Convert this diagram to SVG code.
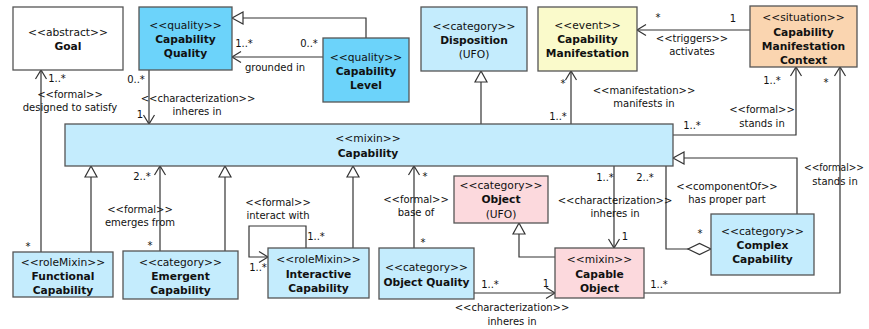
<svg xmlns="http://www.w3.org/2000/svg" width="869" height="329" viewBox="0 0 869 329">
  <style>
    .box { stroke: #555; stroke-width: 1.3; }
    .white { fill: #ffffff; }
    .quality { fill: #6cd3fa; }
    .light { fill: #c4ecfd; }
    .event { fill: #fafacb; }
    .situation { fill: #fad5b0; }
    .object { fill: #fcd9dd; }
    .st { font-family: "DejaVu Sans", Verdana, sans-serif; font-size: 10.7px; fill: #111; text-anchor: middle; }
    .nm { font-family: "DejaVu Sans", Verdana, sans-serif; font-size: 10.7px; font-weight: bold; fill: #111; text-anchor: middle; }
    .lbl { font-family: "DejaVu Sans", Verdana, sans-serif; font-size: 10px; fill: #111; text-anchor: middle; }
    .edge { fill: none; stroke: #333; stroke-width: 1.2; }
    .assoc { marker-end: url(#open); }
    .gen { marker-end: url(#tri); }
  </style>
  <defs>
    <marker id="open" viewBox="-11 -7 12 14" refX="0" refY="0" markerWidth="12" markerHeight="14" orient="auto" markerUnits="userSpaceOnUse" overflow="visible">
      <path d="M-9,-5.5 L0,0 L-9,5.5" fill="none" stroke="#333" stroke-width="1.2"/>
    </marker>
    <marker id="tri" viewBox="-12 -7 13 14" refX="0" refY="0" markerWidth="13" markerHeight="14" orient="auto" markerUnits="userSpaceOnUse" overflow="visible">
      <path d="M0,0 L-11,-6 L-11,6 Z" fill="#ffffff" stroke="#333" stroke-width="1.2"/>
    </marker>
    <marker id="diamond" viewBox="-1 -7 25 14" refX="0" refY="0" markerWidth="25" markerHeight="14" orient="auto" markerUnits="userSpaceOnUse" overflow="visible">
      <path d="M0,0 L11.5,-5.5 L23,0 L11.5,5.5 Z" fill="#ffffff" stroke="#333" stroke-width="1.2"/>
    </marker>
  </defs>

  <g id="connectors">
    <path class="edge assoc" d="M41,252 V70"/>
    <path class="edge gen" d="M91,252 V166"/>
    <path class="edge assoc" d="M160,251 V166"/>
    <path class="edge gen" d="M225,251 V166"/>
    <path class="edge assoc" d="M306,248 V226 H249 V257 H268"/>
    <path class="edge gen" d="M353,248 V166"/>
    <path class="edge assoc" d="M414,248 V166"/>
    <path class="edge assoc" d="M474,293 H555"/>
    <path class="edge gen" d="M555,257 H519 V223"/>
    <path class="edge assoc" d="M614,166 V248"/>
    <path class="edge" d="M711,249 H666 V166" marker-start="url(#diamond)"/>
    <path class="edge gen" d="M797,214 V158 H673"/>
    <path class="edge assoc" d="M673,135 H796 V67"/>
    <path class="edge assoc" d="M644,293 H840 V67"/>
    <path class="edge assoc" d="M571,124 V71"/>
    <path class="edge assoc" d="M750,30 H637"/>
    <path class="edge gen" d="M481,124 V71"/>
    <path class="edge assoc" d="M149,70 V124"/>
    <path class="edge gen" d="M366,38 V18 H232"/>
    <path class="edge assoc" d="M323,57 H232"/>

    <!-- association labels and multiplicities -->
    <text class="lbl" x="57" y="82">1..*</text>
    <text class="lbl" x="70" y="98">&lt;&lt;formal&gt;&gt;</text>
    <text class="lbl" x="70" y="111">designed to satisfy</text>
    <text class="lbl" x="28" y="250">*</text>

    <text class="lbl" x="136" y="83">0..*</text>
    <text class="lbl" x="198" y="102">&lt;&lt;characterization&gt;&gt;</text>
    <text class="lbl" x="197" y="115">inheres in</text>
    <text class="lbl" x="140" y="118">1</text>

    <text class="lbl" x="244" y="47">1..*</text>
    <text class="lbl" x="309" y="47">0..*</text>
    <text class="lbl" x="275" y="71">grounded in</text>

    <text class="lbl" x="563" y="87">*</text>
    <text class="lbl" x="558" y="120">1..*</text>
    <text class="lbl" x="644" y="94">&lt;&lt;manifestation&gt;&gt;</text>
    <text class="lbl" x="644" y="107">manifests in</text>

    <text class="lbl" x="658" y="21">*</text>
    <text class="lbl" x="733" y="22">1</text>
    <text class="lbl" x="692" y="42">&lt;&lt;triggers&gt;&gt;</text>
    <text class="lbl" x="692" y="55">activates</text>

    <text class="lbl" x="772" y="84">1..*</text>
    <text class="lbl" x="826" y="86">*</text>
    <text class="lbl" x="762" y="113">&lt;&lt;formal&gt;&gt;</text>
    <text class="lbl" x="762" y="127">stands in</text>
    <text class="lbl" x="692" y="129">1..*</text>

    <text class="lbl" x="834" y="171" textLength="60" lengthAdjust="spacingAndGlyphs">&lt;&lt;formal&gt;&gt;</text>
    <text class="lbl" x="835" y="185">stands in</text>
    <text class="lbl" x="659" y="288">1..*</text>

    <text class="lbl" x="605" y="181">1..*</text>
    <text class="lbl" x="645" y="181">2..*</text>
    <text class="lbl" x="615" y="204">&lt;&lt;characterization&gt;&gt;</text>
    <text class="lbl" x="615" y="217">inheres in</text>
    <text class="lbl" x="625" y="240">1</text>

    <text class="lbl" x="727" y="190">&lt;&lt;componentOf&gt;&gt;</text>
    <text class="lbl" x="727" y="203">has proper part</text>
    <text class="lbl" x="700" y="237">*</text>

    <text class="lbl" x="490" y="288">1..*</text>
    <text class="lbl" x="546" y="287">1</text>
    <text class="lbl" x="512" y="311">&lt;&lt;characterization&gt;&gt;</text>
    <text class="lbl" x="512" y="325">inheres in</text>

    <text class="lbl" x="425" y="180">*</text>
    <text class="lbl" x="416" y="203">&lt;&lt;formal&gt;&gt;</text>
    <text class="lbl" x="416" y="216">base of</text>
    <text class="lbl" x="423" y="246">*</text>

    <text class="lbl" x="278" y="206">&lt;&lt;formal&gt;&gt;</text>
    <text class="lbl" x="278" y="219">interact with</text>
    <text class="lbl" x="316" y="240">1..*</text>
    <text class="lbl" x="258" y="271">1..*</text>

    <text class="lbl" x="142" y="180">2..*</text>
    <text class="lbl" x="140" y="213">&lt;&lt;formal&gt;&gt;</text>
    <text class="lbl" x="140" y="226">emerges from</text>
    <text class="lbl" x="150" y="249">*</text>
  </g>

  <g id="goal">
    <rect class="box white" x="13" y="7" width="110" height="63"/>
    <text class="st" x="68" y="36">&lt;&lt;abstract&gt;&gt;</text>
    <text class="nm" x="68" y="50">Goal</text>
  </g>

  <g id="capability-quality">
    <rect class="box quality" x="139" y="7" width="93" height="63"/>
    <text class="st" x="185.5" y="29">&lt;&lt;quality&gt;&gt;</text>
    <text class="nm" x="185.5" y="43">Capability</text>
    <text class="nm" x="185.5" y="57">Quality</text>
  </g>

  <g id="capability-level">
    <rect class="box quality" x="323" y="38" width="86" height="64"/>
    <text class="st" x="366" y="60.5">&lt;&lt;quality&gt;&gt;</text>
    <text class="nm" x="366" y="74.5">Capability</text>
    <text class="nm" x="366" y="88.5">Level</text>
  </g>

  <g id="disposition">
    <rect class="box light" x="421" y="7" width="106" height="64"/>
    <text class="st" x="474" y="29.5">&lt;&lt;category&gt;&gt;</text>
    <text class="nm" x="474" y="44">Disposition</text>
    <text class="st" x="474" y="58">(UFO)</text>
  </g>

  <g id="capability-manifestation">
    <rect class="box event" x="538" y="7" width="99" height="64"/>
    <text class="st" x="587.5" y="29">&lt;&lt;event&gt;&gt;</text>
    <text class="nm" x="587.5" y="43">Capability</text>
    <text class="nm" x="587.5" y="57">Manifestation</text>
  </g>

  <g id="capability-manifestation-context">
    <rect class="box situation" x="750" y="6" width="107" height="61"/>
    <text class="st" x="803.5" y="21">&lt;&lt;situation&gt;&gt;</text>
    <text class="nm" x="803.5" y="35.5">Capability</text>
    <text class="nm" x="803.5" y="49.5">Manifestation</text>
    <text class="nm" x="803.5" y="63.5">Context</text>
  </g>

  <g id="capability">
    <rect class="box light" x="65" y="124" width="608" height="42"/>
    <text class="st" x="368" y="142">&lt;&lt;mixin&gt;&gt;</text>
    <text class="nm" x="368" y="156.5">Capability</text>
  </g>

  <g id="functional-capability">
    <rect class="box light" x="13" y="252" width="100" height="45"/>
    <text class="st" x="63" y="265.5">&lt;&lt;roleMixin&gt;&gt;</text>
    <text class="nm" x="63" y="279.5">Functional</text>
    <text class="nm" x="63" y="293.5">Capability</text>
  </g>

  <g id="emergent-capability">
    <rect class="box light" x="123" y="251" width="115" height="48"/>
    <text class="st" x="180.5" y="265.5">&lt;&lt;category&gt;&gt;</text>
    <text class="nm" x="180.5" y="279.5">Emergent</text>
    <text class="nm" x="180.5" y="293.5">Capability</text>
  </g>

  <g id="interactive-capability">
    <rect class="box light" x="268" y="248" width="101" height="50"/>
    <text class="st" x="318.5" y="263">&lt;&lt;roleMixin&gt;&gt;</text>
    <text class="nm" x="318.5" y="277.5">Interactive</text>
    <text class="nm" x="318.5" y="291.5">Capability</text>
  </g>

  <g id="object-quality">
    <rect class="box light" x="379" y="248" width="95" height="51"/>
    <text class="st" x="426.5" y="271">&lt;&lt;category&gt;&gt;</text>
    <text class="nm" x="426.5" y="286">Object Quality</text>
  </g>

  <g id="object">
    <rect class="box object" x="454" y="176" width="94" height="47"/>
    <text class="st" x="501" y="189">&lt;&lt;category&gt;&gt;</text>
    <text class="nm" x="501" y="203">Object</text>
    <text class="st" x="501" y="218">(UFO)</text>
  </g>

  <g id="capable-object">
    <rect class="box object" x="555" y="248" width="89" height="50"/>
    <text class="st" x="599.5" y="263">&lt;&lt;mixin&gt;&gt;</text>
    <text class="nm" x="599.5" y="277.5">Capable</text>
    <text class="nm" x="599.5" y="291.5">Object</text>
  </g>

  <g id="complex-capability">
    <rect class="box light" x="711" y="214" width="103" height="61"/>
    <text class="st" x="762.5" y="235">&lt;&lt;category&gt;&gt;</text>
    <text class="nm" x="762.5" y="249">Complex</text>
    <text class="nm" x="762.5" y="263">Capability</text>
  </g>
</svg>
